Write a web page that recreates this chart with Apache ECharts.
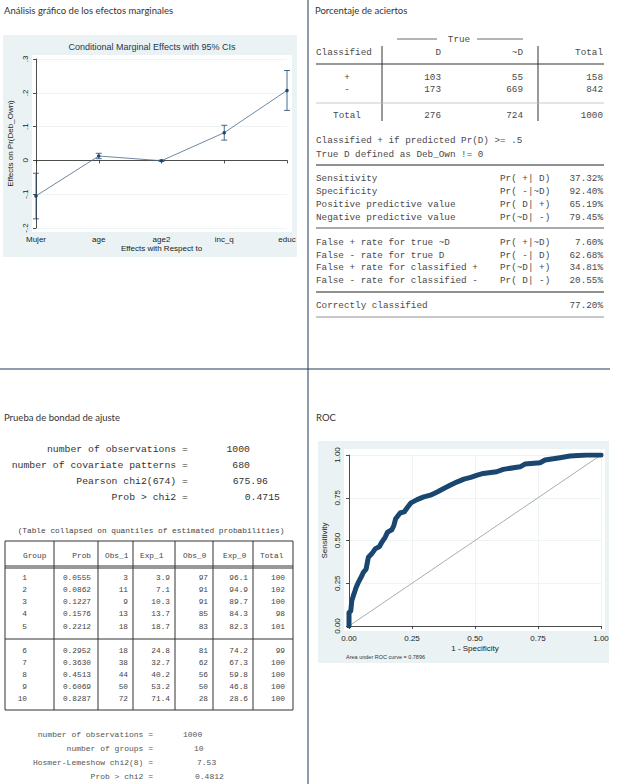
<!DOCTYPE html>
<html>
<head>
<meta charset="utf-8">
<script src="https://cdn.jsdelivr.net/npm/echarts@6/dist/echarts.min.js"></script>
<style>
html,body{margin:0;padding:0;background:#fff;}
#c{width:622px;height:784px;}
</style>
</head>
<body>
<div id="c"></div>
<script>
// ---------- DATA ----------
const meCategories = ['Mujer', 'age', 'age2', 'inc_q', 'educ'];
const meEffect = [-0.105, 0.013, -0.001, 0.082, 0.207];
const meLower  = [-0.173, 0.005, -0.003, 0.060, 0.148];
const meUpper  = [-0.038, 0.021, 0.001, 0.104, 0.266];
const meYTicks = [-0.2, -0.1, 0, 0.1, 0.2, 0.3];

const rocFpr = [0, 0, 0.007, 0.011, 0.017, 0.024, 0.028, 0.037, 0.051, 0.057, 0.068, 0.073, 0.077, 0.09, 0.104, 0.121, 0.13, 0.144, 0.153, 0.17, 0.178, 0.185, 0.203, 0.219, 0.233, 0.246, 0.27, 0.297, 0.323, 0.35, 0.376, 0.403, 0.43, 0.456, 0.483, 0.509, 0.533, 0.586, 0.612, 0.679, 0.698, 0.758, 0.778, 0.837, 0.877, 0.943, 1];
const rocTpr = [0, 0.078, 0.088, 0.147, 0.176, 0.206, 0.225, 0.255, 0.294, 0.314, 0.333, 0.373, 0.402, 0.422, 0.451, 0.465, 0.49, 0.52, 0.549, 0.563, 0.588, 0.627, 0.661, 0.667, 0.696, 0.72, 0.739, 0.755, 0.765, 0.784, 0.804, 0.824, 0.843, 0.859, 0.869, 0.882, 0.892, 0.902, 0.916, 0.931, 0.947, 0.955, 0.971, 0.984, 0.994, 1, 1];
const rocArea = '0.7896';

const classRows = ['+', '-'];
const classD = [103, 173];
const classNotD = [55, 669];
const classTotal = [158, 842];
const classColTotals = [276, 724, 1000];
const statLabels1 = ['Sensitivity', 'Specificity', 'Positive predictive value', 'Negative predictive value'];
const statPr1 = ['Pr( +| D)', 'Pr( -|~D)', 'Pr( D| +)', 'Pr(~D| -)'];
const statVal1 = ['37.32%', '92.40%', '65.19%', '79.45%'];
const statLabels2 = ['False + rate for true ~D', 'False - rate for true D', 'False + rate for classified +', 'False - rate for classified -'];
const statPr2 = ['Pr( +|~D)', 'Pr( -| D)', 'Pr(~D| +)', 'Pr( D| -)'];
const statVal2 = ['7.60%', '62.68%', '34.81%', '20.55%'];
const correctVal = '77.20%';

const gofLabels = ['number of observations =', 'number of covariate patterns =', 'Pearson chi2(674) =', 'Prob > chi2 ='];
const gofValues = ['1000', '680', '675.96', '0.4715'];

const hlHeaders = ['Group', 'Prob', 'Obs_1', 'Exp_1', 'Obs_0', 'Exp_0', 'Total'];
const hlGroup = [1, 2, 3, 4, 5, 6, 7, 8, 9, 10];
const hlProb = ['0.0555', '0.0862', '0.1227', '0.1576', '0.2212', '0.2952', '0.3630', '0.4513', '0.6069', '0.8287'];
const hlObs1 = [3, 11, 9, 13, 18, 18, 38, 44, 50, 72];
const hlExp1 = ['3.9', '7.1', '10.3', '13.7', '18.7', '24.8', '32.7', '40.2', '53.2', '71.4'];
const hlObs0 = [97, 91, 91, 85, 83, 81, 62, 56, 50, 28];
const hlExp0 = ['96.1', '94.9', '89.7', '84.3', '82.3', '74.2', '67.3', '59.8', '46.8', '28.6'];
const hlTotal = [100, 102, 100, 98, 101, 99, 100, 100, 100, 100];
const hlLabels = ['number of observations =', 'number of groups =', 'Hosmer-Lemeshow chi2(8) =', 'Prob > chi2 ='];
const hlValues = ['1000', '10', '7.53', '0.4812'];

// ---------- HELPERS ----------
const MONO = '"Liberation Mono", "DejaVu Sans Mono", monospace';
const SANS = '"Liberation Sans", Arial, sans-serif';
const G = [];
function txt(x, y, s, o) {
  o = o || {};
  const al = o.align || 'left';
  G.push({
    type: 'text', x: x, y: y, z: 5, silent: true,
    style: {
      text: String(s), fill: o.color || '#444',
      fontSize: o.size || 9, fontFamily: o.family || MONO,
      fontWeight: o.weight || 'normal',
      align: al, textAlign: al, verticalAlign: 'middle', textVerticalAlign: 'middle'
    }
  });
}
function ln(x1, y1, x2, y2, c, w) {
  G.push({ type: 'line', z: 4, silent: true, shape: { x1: x1, y1: y1, x2: x2, y2: y2 }, style: { stroke: c || '#333', lineWidth: w || 1 } });
}
function rect(x, y, w, h, c) {
  G.push({ type: 'rect', z: -10, silent: true, shape: { x: x, y: y, width: w, height: h }, style: { fill: c } });
}

// panel backgrounds
rect(3, 35, 294, 222, '#eaf2f3');
rect(32, 55, 260, 177, '#ffffff');
rect(318, 441, 291, 222, '#eaf2f3');
rect(344, 449, 261, 182, '#ffffff');

// dividers
ln(308, 0, 308, 784, '#1f3a5a', 1);
ln(0, 369, 610, 369, '#1f3a5a', 1);

// section titles
const TITLE = { family: 'Lato, "Open Sans", sans-serif', size: 9.5, color: '#333' };
txt(4, 10, 'Análisis gráfico de los efectos marginales', TITLE);
txt(315, 10, 'Porcentaje de aciertos', TITLE);
txt(4, 417, 'Prueba de bondad de ajuste', TITLE);
txt(316, 417, 'ROC', TITLE);

// chart titles / notes
txt(152, 47, 'Conditional Marginal Effects with 95% CIs', { family: SANS, size: 9, color: '#23384d', align: 'center' });
txt(346, 657, 'Area under ROC curve = ' + rocArea, { family: SANS, size: 5.5, color: '#333' });

// ---------- classification table ----------
const T = { size: 9.3, color: '#4a4a4a' };
ln(397, 39, 437, 39, '#444', 0.8);
ln(477, 39, 523, 39, '#444', 0.8);
txt(459, 39, 'True', Object.assign({ align: 'center' }, T));
txt(316, 52, 'Classified', T);
txt(441, 52, 'D', Object.assign({ align: 'right' }, T));
txt(523, 52, '~D', Object.assign({ align: 'right' }, T));
txt(603, 52, 'Total', Object.assign({ align: 'right' }, T));
ln(316, 64, 604, 64, '#333', 1);
ln(382, 46, 382, 121, '#333', 1);
ln(538, 46, 538, 121, '#333', 1);
const rowY = [77, 89];
classRows.forEach(function (r, i) {
  txt(347, rowY[i], r, Object.assign({ align: 'center' }, T));
  txt(441, rowY[i], classD[i], Object.assign({ align: 'right' }, T));
  txt(523, rowY[i], classNotD[i], Object.assign({ align: 'right' }, T));
  txt(603, rowY[i], classTotal[i], Object.assign({ align: 'right' }, T));
});
ln(316, 103, 604, 103, '#bbb', 0.8);
txt(347, 115, 'Total', Object.assign({ align: 'center' }, T));
txt(441, 115, classColTotals[0], Object.assign({ align: 'right' }, T));
txt(523, 115, classColTotals[1], Object.assign({ align: 'right' }, T));
txt(603, 115, classColTotals[2], Object.assign({ align: 'right' }, T));
txt(316, 140, 'Classified + if predicted Pr(D) >= .5', T);
txt(316, 154, 'True D defined as Deb_Own != 0', T);
ln(316, 165, 604, 165, '#222', 1);
const y1 = [178, 191, 204, 217];
statLabels1.forEach(function (s, i) {
  txt(316, y1[i], s, T);
  txt(500, y1[i], statPr1[i], T);
  txt(603, y1[i], statVal1[i], Object.assign({ align: 'right' }, T));
});
ln(316, 228, 604, 228, '#555', 1);
const y2 = [242, 255, 267, 280];
statLabels2.forEach(function (s, i) {
  txt(316, y2[i], s, T);
  txt(500, y2[i], statPr2[i], T);
  txt(603, y2[i], statVal2[i], Object.assign({ align: 'right' }, T));
});
ln(316, 292, 604, 292, '#222', 1);
txt(316, 305, 'Correctly classified', T);
txt(603, 305, correctVal, Object.assign({ align: 'right' }, T));
ln(316, 317, 604, 317, '#777', 0.8);

// ---------- goodness of fit ----------
const GF = { size: 9.8, color: '#333' };
const gofY = [449, 465, 481, 497];
const gofRight = [250, 250, 268, 280];
gofLabels.forEach(function (s, i) {
  txt(188, gofY[i], s, Object.assign({ align: 'right' }, GF));
  txt(gofRight[i], gofY[i], gofValues[i], Object.assign({ align: 'right' }, GF));
});
txt(151, 531, '(Table collapsed on quantiles of estimated probabilities)', { size: 7.8, color: '#444', align: 'center' });

// Hosmer-Lemeshow table
const HT = { size: 7.8, color: '#444' };
const colX = [5, 54, 98, 133, 175, 213, 253, 293];
ln(5, 541, 293, 541, '#333', 1);
ln(5, 710, 293, 710, '#333', 1);
colX.forEach(function (x) { ln(x, 541, x, 710, '#333', 1); });
ln(5, 566, 293, 566, '#333', 1);
ln(5, 568, 293, 568, '#333', 1);
ln(5, 639, 293, 639, '#333', 1);
const hdrLeft = [23, null, 105, 140, 183, 223, 260];
hlHeaders.forEach(function (h, i) {
  if (i === 1) txt(91, 556, h, Object.assign({ align: 'right' }, HT));
  else txt(hdrLeft[i], 556, h, HT);
});
const hlY = [578, 590, 602, 614, 627, 651, 663, 675, 687, 699];
const dataRight = [27, 91, 128, 170, 208, 248, 285];
hlGroup.forEach(function (g, i) {
  const vals = [g, hlProb[i], hlObs1[i], hlExp1[i], hlObs0[i], hlExp0[i], hlTotal[i]];
  vals.forEach(function (v, j) { txt(dataRight[j], hlY[i], v, Object.assign({ align: 'right' }, HT)); });
});
const hlYs = [734, 748, 762, 776];
const hlValLeft = [183, 194, 197, 195];
hlLabels.forEach(function (s, i) {
  txt(153, hlYs[i], s, { size: 8, color: '#555', align: 'right' });
  txt(hlValLeft[i], hlYs[i], hlValues[i], { size: 8, color: '#555' });
});

// ---------- CHART ----------
const chart = echarts.init(document.getElementById('c'), null, { renderer: 'svg', width: 622, height: 784 });
const AXC = '#222';
function yFmt(v) {
  const r = Math.round(v * 10) / 10;
  if (r === 0) return '0';
  return (r < 0 ? '-' : '') + String(Math.abs(r)).replace(/^0/, '');
}
const option = {
  animation: false,
  graphic: { elements: G },
  grid: [
    { left: 36, top: 59, width: 251, height: 169, containLabel: false },
    { left: 349, top: 455, width: 252, height: 171, containLabel: false }
  ],
  xAxis: [
    {
      gridIndex: 0, type: 'value', min: 0, max: 4, interval: 1, offset: 4,
      axisLine: { lineStyle: { color: AXC, width: 0.8 } },
      axisTick: { length: 3, lineStyle: { color: AXC, width: 0.8 } },
      axisLabel: { fontSize: 8, color: '#222', fontFamily: SANS, margin: 3, formatter: function (v) { return meCategories[Math.round(v)] || ''; } },
      splitLine: { show: false },
      name: 'Effects with Respect to', nameLocation: 'middle', nameGap: 12,
      nameTextStyle: { fontSize: 8, color: '#222', fontFamily: SANS }
    },
    {
      gridIndex: 1, type: 'value', min: 0, max: 1, interval: 0.25, offset: 5,
      axisLine: { lineStyle: { color: AXC, width: 0.8 } },
      axisTick: { length: 3, lineStyle: { color: AXC, width: 0.8 } },
      axisLabel: { fontSize: 8, color: '#222', fontFamily: SANS, margin: 3, formatter: function (v) { return v.toFixed(2); } },
      splitLine: { show: true, lineStyle: { color: '#eef3f5', width: 1 } },
      name: '1 - Specificity', nameLocation: 'middle', nameGap: 13,
      nameTextStyle: { fontSize: 8, color: '#222', fontFamily: SANS }
    }
  ],
  yAxis: [
    {
      gridIndex: 0, type: 'value', min: meYTicks[0], max: meYTicks[meYTicks.length - 1], interval: 0.1, offset: 4,
      axisLine: { show: true, lineStyle: { color: AXC, width: 0.8 } },
      axisTick: { show: true, length: 3, lineStyle: { color: AXC, width: 0.8 } },
      axisLabel: { fontSize: 8, color: '#222', fontFamily: SANS, rotate: 90, margin: 3, formatter: yFmt },
      splitLine: { show: true, lineStyle: { color: '#eef3f5', width: 1 } },
      name: 'Effects on Pr(Deb_Own)', nameLocation: 'middle', nameGap: 18,
      nameTextStyle: { fontSize: 8, color: '#222', fontFamily: SANS }
    },
    {
      gridIndex: 1, type: 'value', min: 0, max: 1, interval: 0.25, offset: 5,
      axisLine: { show: true, lineStyle: { color: AXC, width: 0.8 } },
      axisTick: { show: true, length: 3, lineStyle: { color: AXC, width: 0.8 } },
      axisLabel: { fontSize: 8, color: '#222', fontFamily: SANS, rotate: 90, margin: 3, formatter: function (v) { return v.toFixed(2); } },
      splitLine: { show: true, lineStyle: { color: '#eef3f5', width: 1 } },
      name: 'Sensitivity', nameLocation: 'middle', nameGap: 16,
      nameTextStyle: { fontSize: 8, color: '#222', fontFamily: SANS }
    }
  ],
  series: [
    {
      type: 'custom', xAxisIndex: 0, yAxisIndex: 0, silent: true,
      data: meCategories.map(function (c, i) { return [i, meLower[i], meUpper[i]]; }),
      encode: { x: 0, y: [1, 2] },
      renderItem: function (params, api) {
        const x = api.value(0);
        const lo = api.coord([x, api.value(1)]);
        const hi = api.coord([x, api.value(2)]);
        const w = 3;
        const st = { stroke: '#1a476f', lineWidth: 0.8 };
        return {
          type: 'group', children: [
            { type: 'line', shape: { x1: lo[0], y1: lo[1], x2: hi[0], y2: hi[1] }, style: st },
            { type: 'line', shape: { x1: lo[0] - w, y1: lo[1], x2: lo[0] + w, y2: lo[1] }, style: st },
            { type: 'line', shape: { x1: hi[0] - w, y1: hi[1], x2: hi[0] + w, y2: hi[1] }, style: st }
          ]
        };
      }
    },
    {
      type: 'line', xAxisIndex: 0, yAxisIndex: 0, silent: true,
      data: meCategories.map(function (c, i) { return [i, meEffect[i]]; }),
      symbol: 'circle', symbolSize: 3.5, showSymbol: true,
      itemStyle: { color: '#1a476f' },
      lineStyle: { color: '#4a6a88', width: 0.8 }
    },
    {
      type: 'line', xAxisIndex: 1, yAxisIndex: 1, silent: true,
      data: [[0, 0], [1, 1]], symbol: 'none',
      lineStyle: { color: '#888', width: 0.7 }
    },
    {
      type: 'line', xAxisIndex: 1, yAxisIndex: 1, silent: true,
      data: rocFpr.map(function (f, i) { return [f, rocTpr[i]]; }),
      symbol: 'none',
      lineStyle: { color: '#1a476f', width: 5, join: 'round', cap: 'round' }
    }
  ]
};
chart.setOption(option);
</script>
</body>
</html>
